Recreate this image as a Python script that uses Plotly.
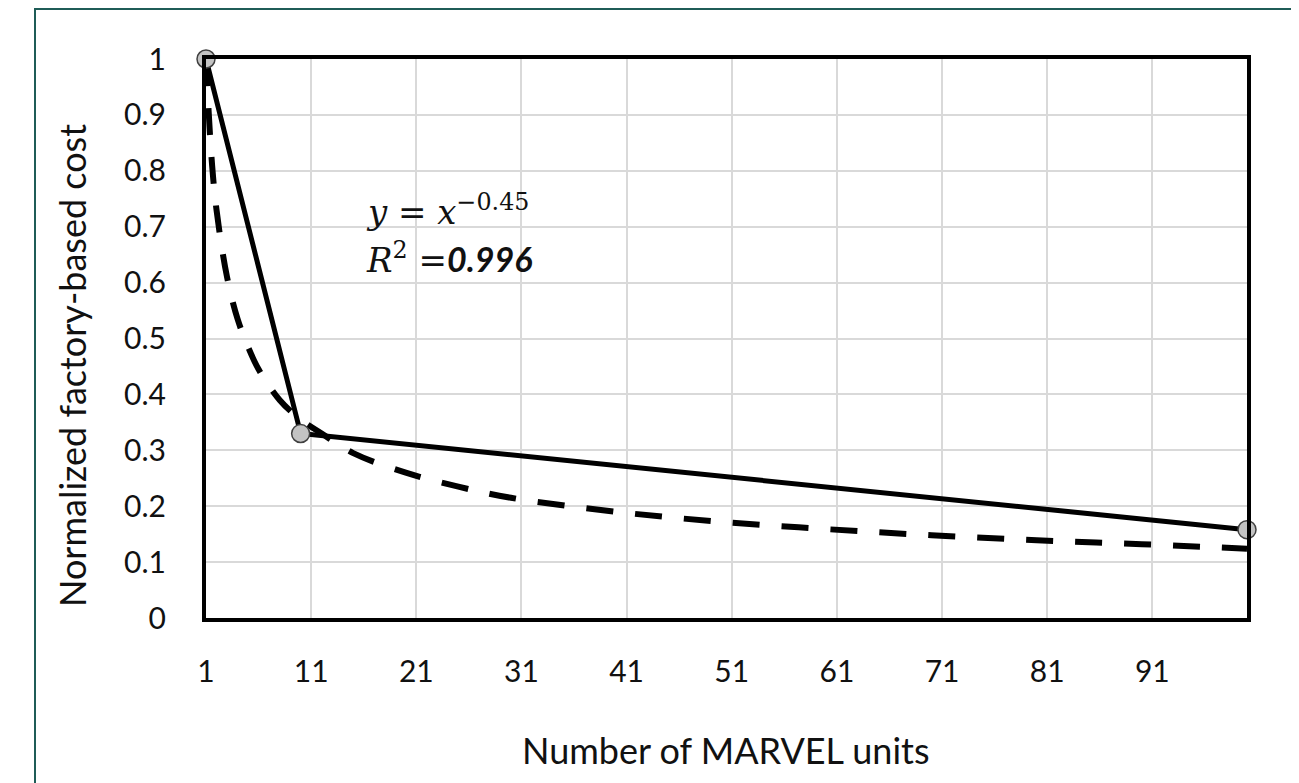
import plotly.graph_objects as go

# Data series
units = [1, 10, 100]
cost = [1.0, 0.33, 0.158]

# Power-law trend line
trend_x = [1, 1.5, 2, 3, 4, 5, 6, 8, 10, 12, 15, 20, 25, 30, 40, 50, 60, 70, 80, 90, 100]
trend_y = [1.0, 0.83, 0.73, 0.61, 0.535, 0.485, 0.445, 0.39, 0.355, 0.33, 0.295,
           0.26, 0.235, 0.215, 0.19, 0.172, 0.159, 0.148, 0.139, 0.132, 0.124]

x_ticks = [1, 11, 21, 31, 41, 51, 61, 71, 81, 91]
y_ticks = [0, 0.1, 0.2, 0.3, 0.4, 0.5, 0.6, 0.7, 0.8, 0.9, 1]
y_tick_text = ["0", "0.1", "0.2", "0.3", "0.4", "0.5", "0.6", "0.7", "0.8", "0.9", "1"]

FONT = "Lato"
OFF = 8  # page body margin

W, H = 1299, 783
L, T = 198, 51
PW, PH = 1041, 559
R = W - L - PW
B = H - T - PH


def px(xp):
    return (xp - OFF - L) / PW


def py(yp):
    return 1 - (yp - OFF - T) / PH


fig = go.Figure()
fig.add_trace(go.Scatter(x=units, y=cost, mode="lines",
                         line=dict(color="black", width=5), showlegend=False,
                         hoverinfo="skip", cliponaxis=False))
fig.add_trace(go.Scatter(x=trend_x, y=trend_y, mode="lines",
                         line=dict(color="black", width=6, dash="27px,22px", shape="spline"),
                         showlegend=False, hoverinfo="skip", cliponaxis=False))
fig.add_trace(go.Scatter(x=units, y=cost, mode="markers",
                         marker=dict(size=18, color="#c3c3c3", line=dict(color="#404040", width=1.5)),
                         showlegend=False, cliponaxis=False))

fig.update_layout(
    width=W, height=H,
    margin=dict(l=L, r=R, t=T, b=B, pad=0),
    paper_bgcolor="white", plot_bgcolor="white",
    font=dict(family=FONT, size=30, color="#111111"),
    xaxis=dict(range=[1, 100], tickvals=x_ticks, ticktext=[str(v) for v in x_ticks],
               tickfont=dict(family=FONT, size=30, color="#111111"),
               showgrid=True, gridcolor="#d9d9d9", gridwidth=2,
               showline=True, linecolor="black", linewidth=4, mirror=True,
               zeroline=False, ticks="", ticklabelstandoff=24),
    yaxis=dict(range=[0, 1], tickvals=y_ticks, ticktext=y_tick_text,
               tickfont=dict(family=FONT, size=30, color="#111111"),
               showgrid=True, gridcolor="#d9d9d9", gridwidth=2,
               showline=True, linecolor="black", linewidth=4, mirror=True,
               zeroline=False, ticks="", ticklabelstandoff=30),
)

# axis titles
fig.add_annotation(xref="paper", yref="paper", x=px(726), y=py(750),
                   xanchor="center", yanchor="middle", showarrow=False,
                   text="Number of MARVEL units",
                   font=dict(family=FONT, size=36, color="#111111"))
fig.add_annotation(xref="paper", yref="paper", x=px(72), y=py(366),
                   xanchor="center", yanchor="middle", showarrow=False, textangle=-90,
                   text="Normalized factory-based cost",
                   font=dict(family=FONT, size=36, color="#111111"))

# outer frame (teal), left and top edges visible
fig.add_shape(type="rect", xref="paper", yref="paper",
              x0=px(35), x1=px(W + 60), y0=py(H + 60), y1=py(9),
              line=dict(color="#1f5c57", width=2), layer="below")

# fit equation
fig.add_annotation(xref="paper", yref="paper", x=px(364), y=py(210),
                   xanchor="left", yanchor="middle", showarrow=False,
                   text="<i>y</i> = <i>x</i><sup>−0.45</sup>",
                   font=dict(family="DejaVu Serif", size=34, color="#111111"))
fig.add_annotation(xref="paper", yref="paper", x=px(364), y=py(258),
                   xanchor="left", yanchor="middle", showarrow=False,
                   text="<i>R</i><sup>2</sup> =<span style='font-family:Lato'><b><i>0.996</i></b></span>",
                   font=dict(family="DejaVu Serif", size=34, color="#111111"))

fig.write_html("out.html")
